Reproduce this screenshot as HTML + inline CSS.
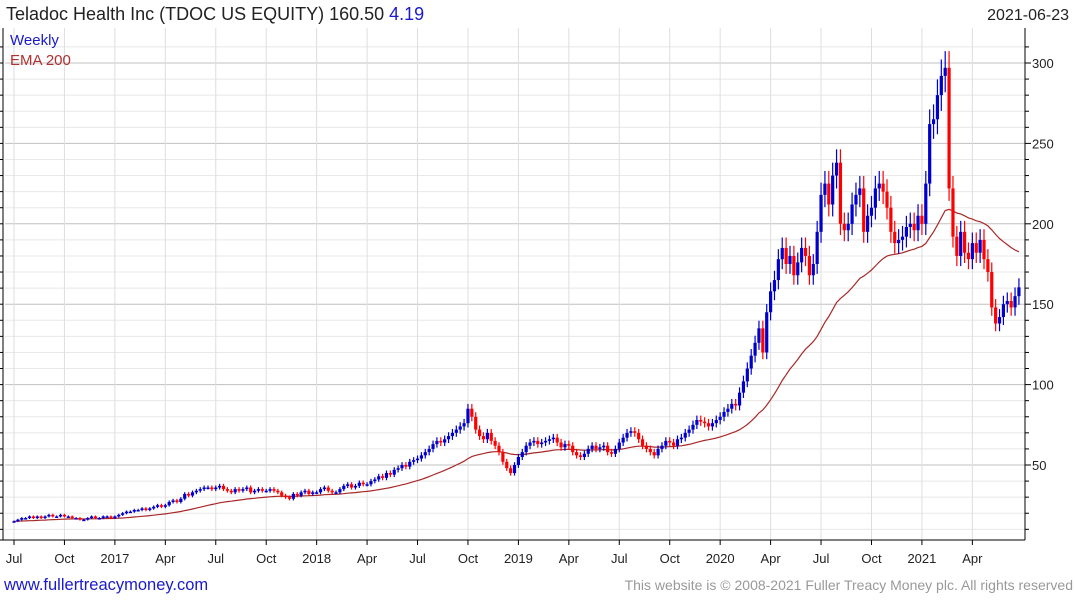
<!DOCTYPE html>
<html><head><meta charset="utf-8"><style>
body{margin:0;background:#fff;width:1075px;height:600px;overflow:hidden;font-family:"Liberation Sans",sans-serif}
svg{position:absolute;left:0;top:0}
</style></head><body>
<svg id="c" width="1075" height="600">
<text x="6" y="20" font-size="18" fill="#222">Teladoc Health Inc (TDOC US EQUITY) 160.50 <tspan fill="#1a1acc">4.19</tspan></text>
<text x="1069" y="20" font-size="16" fill="#222" text-anchor="end">2021-06-23</text>
<g id="grid"></g><g id="marks"></g>
<text x="10" y="45" font-size="15" fill="#1a1acc">Weekly</text>
<text x="10" y="65" font-size="15" fill="#b03030">EMA 200</text>
<text x="4" y="590" font-size="16.5" fill="#1a1acc">www.fullertreacymoney.com</text>
<text x="1073" y="590" font-size="14" fill="#999" text-anchor="end">This website is © 2008-2021 Fuller Treacy Money plc. All rights reserved</text>
</svg>
<script>
const closes=[15,16,17,17,18,17,18,17,18,19,18,18,19,
18,18,17,17,16,16,17,18,17,17,18,18,17,
18,19,20,21,21,22,22,23,22,23,24,25,24,
25,27,28,27,29,32,31,33,34,35,36,36,35,
36,37,35,34,33,35,34,35,36,33,34,35,34,
34,35,34,33,31,30,29,32,31,33,34,32,33,
33,35,36,34,33,33,35,37,38,36,37,39,38,
38,40,41,43,42,45,44,47,48,50,49,52,53,
54,56,58,60,63,65,64,66,68,70,72,74,76,
85,80,72,68,66,70,65,62,58,52,48,45,50,
55,58,62,64,65,63,64,65,66,67,64,61,63,
62,58,56,55,57,60,62,60,61,62,58,57,60,
64,67,70,71,70,66,62,60,58,56,60,62,65,
64,62,66,67,70,72,75,78,77,76,74,76,78,
80,83,85,88,87,95,102,110,118,126,135,120,145,
158,165,178,185,175,180,168,176,185,180,168,175,195,
218,225,212,230,238,200,196,200,212,218,222,195,205,
210,222,225,220,210,195,188,190,192,198,200,196,205,
200,225,262,265,280,292,297,222,192,180,195,182,178,
188,182,190,178,170,148,138,142,150,152,148,155,160.5];
const yTicks=[50,100,150,200,250,300];
const xLabels=["Jul","Oct","2017","Apr","Jul","Oct","2018","Apr","Jul","Oct","2019","Apr","Jul","Oct","2020","Apr","Jul","Oct","2021","Apr"];
const xLabelPos=[0,13,26,39,52,65,78,91,104,117,130,143,156,169,182,195,208,221,234,247]; // week indices
const emaPeriod=40;
const NS="http://www.w3.org/2000/svg";
const X0=14,DX=3.88,L=5,R=1025,T=28,B=540;
const xs=i=>X0+i*DX;
const ys=v=>465-(v-50)*1.608;
function mk(tag,at,p){const e=document.createElementNS(NS,tag);for(const k in at)e.setAttribute(k,at[k]);p.appendChild(e);return e;}
const g=document.getElementById('grid'),m=document.getElementById('marks');
for(let v=10;v<=310;v+=10){const y=ys(v);const maj=v%50===0;
 const l=mk('line',{x1:L,x2:R,y1:y,y2:y,stroke:maj?'#c0c0c0':'#e8e8e8','stroke-width':1},g);
 
 mk('line',{x1:R,x2:R+(maj?6:4),y1:y,y2:y,stroke:'#000'},g);
 mk('line',{x1:0,x2:3,y1:y,y2:y,stroke:'#000'},g);}
yTicks.forEach(v=>{const t=mk('text',{x:1032,y:ys(v)+5,'font-size':13,fill:'#222'},g);t.textContent=v;
 });
xLabels.forEach((s,k)=>{const x=xs(xLabelPos[k]);
 const l=mk('line',{x1:x,x2:x,y1:T,y2:B,stroke:'#dedede'},g);
 
 mk('line',{x1:x,x2:x,y1:B,y2:B+5,stroke:'#000'},g);
 const t=mk('text',{x:x,y:563,'font-size':13,fill:'#222','text-anchor':'middle'},g);t.textContent=s;
 });
mk('line',{x1:R,x2:R,y1:T,y2:B,stroke:'#000'},g);
mk('line',{x1:0,x2:R,y1:B,y2:B,stroke:'#000'},g);
mk('line',{x1:3,x2:3,y1:T,y2:B,stroke:'#000'},g);
// EMA
let e=closes[0],pts=[];const a=2/(emaPeriod+1);
closes.forEach((c,i)=>{e=i?a*c+(1-a)*e:c;pts.push(xs(i).toFixed(1)+','+ys(e).toFixed(1));});
const pl=mk('polyline',{points:pts.join(' '),fill:'none',stroke:'#a82828','stroke-width':1.2},m);

// candles
closes.forEach((c,i)=>{const o=i?closes[i-1]:c;const up=c>=o;const col=up?'#0000cc':'#ff0000';
 const hi=Math.max(o,c)*1.035,lo=Math.min(o,c)*0.965;const x=xs(i);
 const w=mk('line',{x1:x,x2:x,y1:ys(hi),y2:ys(lo),stroke:col,'stroke-width':1.2},m);
 
 const yt=ys(Math.max(o,c)),yb=ys(Math.min(o,c));
 const r=mk('rect',{x:x-1.6,y:yt,width:3.2,height:Math.max(1.5,yb-yt),fill:col},m);
 });
</script>
</body></html>
